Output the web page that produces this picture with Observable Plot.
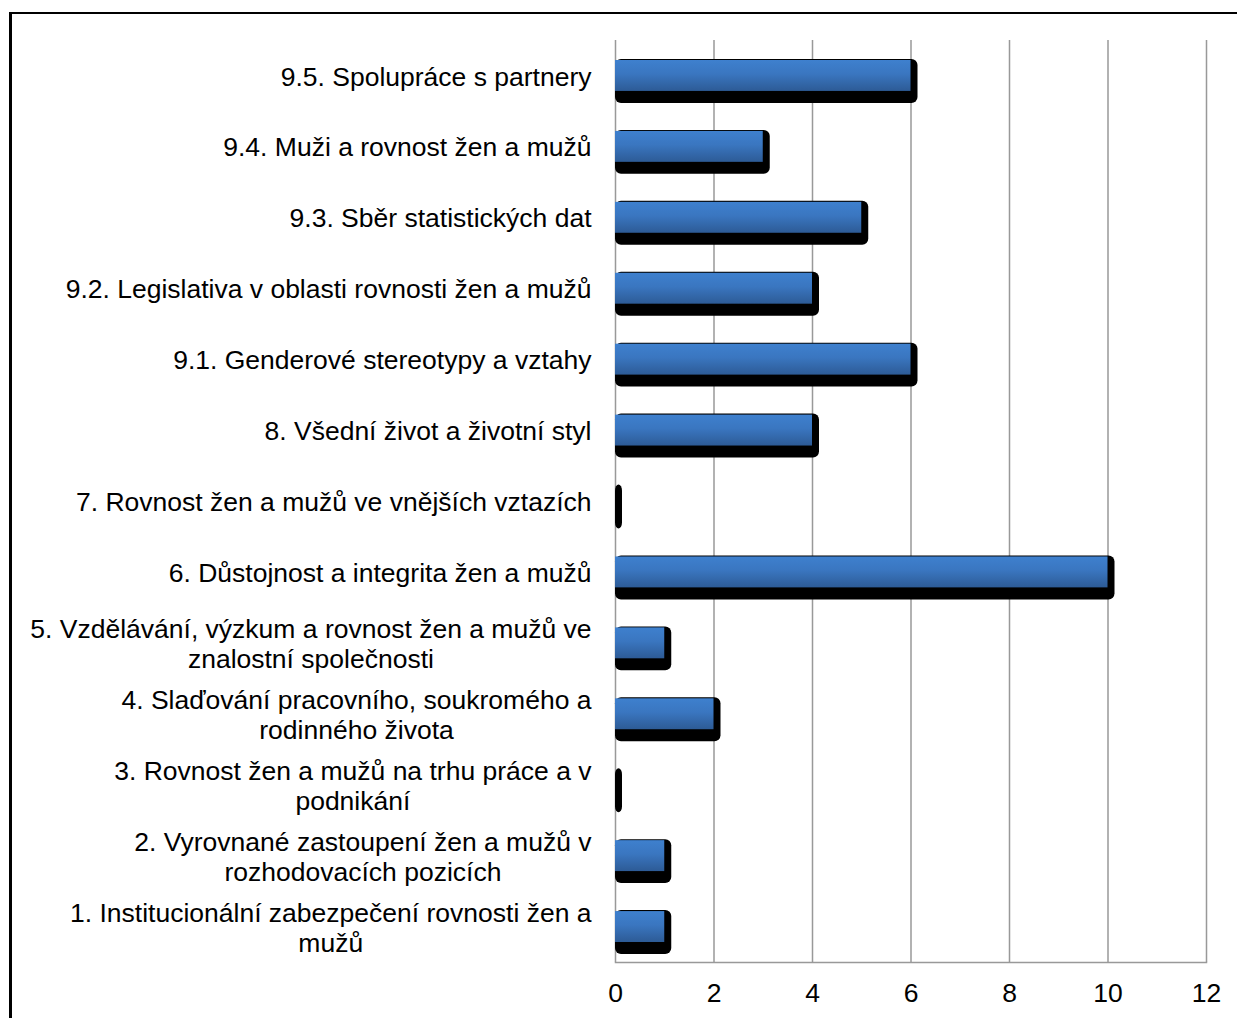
<!DOCTYPE html>
<html><head><meta charset="utf-8">
<script src="https://cdn.jsdelivr.net/npm/d3@7"></script>
<script src="https://cdn.jsdelivr.net/npm/@observablehq/plot@0.6"></script>
<style>
html,body{margin:0;padding:0;background:#fff;overflow:hidden;width:1237px;height:1018px;}
#frame{position:absolute;left:9px;top:12px;width:1300px;height:1100px;border-left:3px solid #000;border-top:2px solid #000;box-sizing:border-box;}
#chart{position:absolute;left:0;top:0;}
</style></head><body><div id="frame"></div><div id="chart"></div>
<script>
const categories = [
  "9.5. Spolupráce s partnery",
  "9.4. Muži a rovnost žen a mužů",
  "9.3. Sběr statistických dat",
  "9.2. Legislativa v oblasti rovnosti žen a mužů",
  "9.1. Genderové stereotypy a vztahy",
  "8. Všední život a životní styl",
  "7. Rovnost žen a mužů ve vnějších vztazích",
  "6. Důstojnost a integrita žen a mužů",
  "5. Vzdělávání, výzkum a rovnost žen a mužů ve\nznalostní společnosti",
  "4. Slaďování pracovního, soukromého a\nrodinného života",
  "3. Rovnost žen a mužů na trhu práce a v\npodnikání",
  "2. Vyrovnané zastoupení žen a mužů v\nrozhodovacích pozicích",
  "1. Institucionální zabezpečení rovnosti žen a\nmužů"
];
const values = [6, 3, 5, 4, 6, 4, 0, 10, 1, 2, 0, 1, 1];
const xTicks = [0, 2, 4, 6, 8, 10, 12];
const data = categories.map((c, i) => ({category: c, value: values[i]}));

const plot = Plot.plot({
  width: 1237, height: 1018,
  marginLeft: 615, marginRight: 31, marginTop: 40, marginBottom: 56,
  style: {fontFamily: "'Liberation Sans', Arial, sans-serif", fontSize: "26.5px", color: "#000", background: "transparent", overflow: "visible"},
  x: {domain: [0, 12], ticks: xTicks},
  y: {domain: categories, padding: 0, round: false},
  marks: [
    Plot.ruleX(xTicks, {stroke: "#999", strokeWidth: 1.5}),
    Plot.frame({anchor: "bottom", stroke: "#999", strokeWidth: 1.5}),
    Plot.barX(data, {x: "value", y: "category", fill: "#000", insetTop: 19, insetBottom: 8, insetRight: -7, rx: 6}),
    Plot.barX(data, {x: "value", y: "category", fill: "url(#barGrad)", insetTop: 20, insetBottom: 20}),
    Plot.axisX({ticks: xTicks, tickSize: 0, tickPadding: 21, label: null, fontSize: 26.5}),
    Plot.axisY({tickSize: 0, tickPadding: 24, label: null, lineHeight: 1.13, fontSize: 26.5})
  ]
});
const ns = "http://www.w3.org/2000/svg";
const defs = document.createElementNS(ns, "defs");
defs.innerHTML = '<linearGradient id="barGrad" x1="0" y1="0" x2="0" y2="1"><stop offset="0" stop-color="#3E80CE"/><stop offset="0.45" stop-color="#3A76C0"/><stop offset="1" stop-color="#2D5B96"/></linearGradient>';
plot.insertBefore(defs, plot.firstChild);
document.getElementById("chart").appendChild(plot);

// center wrapped label lines within their block (block stays right-aligned)
plot.querySelectorAll('g[aria-label="y-axis tick label"] text').forEach(t => {
  const spans = t.querySelectorAll("tspan");
  if (spans.length < 2) return;
  let w = 0;
  spans.forEach(s => { w = Math.max(w, s.getComputedTextLength()); });
  t.setAttribute("text-anchor", "middle");
  spans.forEach(s => s.setAttribute("x", -w / 2));
});
</script></body></html>
